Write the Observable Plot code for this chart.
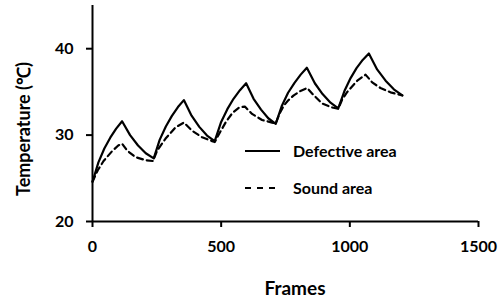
<!DOCTYPE html>
<html>
<head>
<meta charset="utf-8">
<script src="https://cdn.jsdelivr.net/npm/d3@7"></script>
<script src="https://cdn.jsdelivr.net/npm/@observablehq/plot@0.6"></script>
<style>
  html, body { margin: 0; padding: 0; background: #fff; }
  #wrap { position: relative; width: 502px; height: 299px; font-family: Lato, "Open Sans", sans-serif; }
  #legend { position: absolute; left: 0; top: 0; width: 502px; height: 299px; pointer-events: none; }
</style>
</head>
<body>
<div id="wrap"></div>
<script>
const defectiveFrames = [0, 23, 46, 69, 92, 115, 146, 177, 207, 238, 261, 285, 308, 332, 355, 385, 415, 445, 475, 499, 524, 548, 573, 597, 626, 655, 683, 712, 736, 760, 785, 809, 833, 864, 894, 925, 955, 979, 1003, 1026, 1050, 1074, 1106, 1139, 1171, 1204];
const defectiveTemp = [24.6, 26.85, 28.45, 29.7, 30.75, 31.6, 30.0, 28.8, 27.9, 27.3, 29.45, 31.0, 32.2, 33.25, 34.05, 32.25, 30.95, 29.95, 29.3, 31.45, 33.0, 34.2, 35.2, 36.0, 34.2, 32.95, 31.95, 31.3, 33.4, 34.9, 36.05, 37.0, 37.8, 36.0, 34.75, 33.75, 33.1, 35.1, 36.6, 37.75, 38.7, 39.45, 37.6, 36.3, 35.3, 34.6];

const soundFrames = [0, 20, 43, 75, 100, 115, 135, 167, 206, 235, 251, 284, 323, 355, 387, 426, 465, 475, 495, 520, 545, 570, 592, 620, 659, 698, 712, 727, 743, 760, 782, 808, 834, 860, 893, 931, 955, 970, 990, 1029, 1061, 1087, 1119, 1158, 1204];
const soundTemp = [24.6, 25.9, 27.0, 28.1, 28.8, 29.0, 28.2, 27.45, 27.1, 27.0, 28.2, 29.6, 30.9, 31.45, 30.5, 29.75, 29.3, 29.2, 30.3, 31.6, 32.6, 33.2, 33.3, 32.45, 31.75, 31.45, 31.35, 32.5, 33.4, 34.0, 34.6, 35.1, 35.45, 34.6, 33.65, 33.2, 33.05, 34.1, 35.0, 36.3, 37.0, 36.1, 35.45, 34.95, 34.6];

const xTicks = [0, 500, 1000, 1500];
const yTicks = [20, 30, 40];
const xTitle = "Frames";
const yTitle = "Temperature (℃)";
const seriesNames = ["Defective area", "Sound area"];

const defective = defectiveFrames.map((f, i) => ({frame: f, temp: defectiveTemp[i]}));
const sound = soundFrames.map((f, i) => ({frame: f, temp: soundTemp[i]}));

const font = "Lato, 'Open Sans', sans-serif";

const chart = Plot.plot({
  width: 502,
  height: 299,
  marginLeft: 92,
  marginRight: 24,
  marginTop: 5,
  marginBottom: 78,
  style: {fontFamily: font, fontSize: "16px", fontWeight: "bold", color: "#000", background: "#fff"},
  x: {domain: [0, 1500]},
  y: {domain: [20, 45]},
  marks: [
    Plot.ruleX([0], {stroke: "#000", strokeWidth: 2}),
    Plot.ruleY([20], {stroke: "#000", strokeWidth: 2}),
    Plot.axisX({ticks: xTicks, tickFormat: d => String(d), tickSize: 6, tickPadding: 13, label: null, stroke: "#000", strokeWidth: 2, fontSize: 16, fontWeight: "bold", fill: "#000"}),
    Plot.axisY({ticks: yTicks, tickFormat: d => String(d), tickSize: 6, tickPadding: 13, label: null, stroke: "#000", strokeWidth: 2, fontSize: 16, fontWeight: "bold", fill: "#000"}),
    Plot.line(sound, {x: "frame", y: "temp", stroke: "#000", strokeWidth: 2.2, strokeDasharray: "6,4"}),
    Plot.line(defective, {x: "frame", y: "temp", stroke: "#000", strokeWidth: 2.2})
  ]
});

const wrap = document.getElementById("wrap");
wrap.appendChild(chart);

// Overlay: axis titles and legend
const ns = "http://www.w3.org/2000/svg";
const leg = document.createElementNS(ns, "svg");
leg.setAttribute("id", "legend");
leg.setAttribute("width", 502);
leg.setAttribute("height", 299);

function addText(str, x, y, size, rotate) {
  const tx = document.createElementNS(ns, "text");
  tx.setAttribute("font-family", font);
  tx.setAttribute("font-size", size);
  tx.setAttribute("font-weight", "bold");
  tx.setAttribute("fill", "#000");
  tx.setAttribute("dy", "0.35em");
  if (rotate) {
    tx.setAttribute("text-anchor", "middle");
    tx.setAttribute("transform", `translate(${x},${y}) rotate(${rotate})`);
  } else {
    tx.setAttribute("x", x); tx.setAttribute("y", y);
  }
  tx.textContent = str;
  leg.appendChild(tx);
  return tx;
}

const xt = addText(xTitle, 295, 288, 19, 0);
xt.setAttribute("text-anchor", "middle");
addText(yTitle, 24, 129, 18, -90);

const entries = [
  {name: seriesNames[0], dash: null, y: 151},
  {name: seriesNames[1], dash: "6,6", y: 188}
];
for (const e of entries) {
  const ln = document.createElementNS(ns, "line");
  ln.setAttribute("x1", 245); ln.setAttribute("x2", 280);
  ln.setAttribute("y1", e.y); ln.setAttribute("y2", e.y);
  ln.setAttribute("stroke", "#000"); ln.setAttribute("stroke-width", 2.2);
  if (e.dash) ln.setAttribute("stroke-dasharray", e.dash);
  leg.appendChild(ln);
  addText(e.name, 293, e.y, 16, 0);
}
wrap.appendChild(leg);
</script>
</body>
</html>
